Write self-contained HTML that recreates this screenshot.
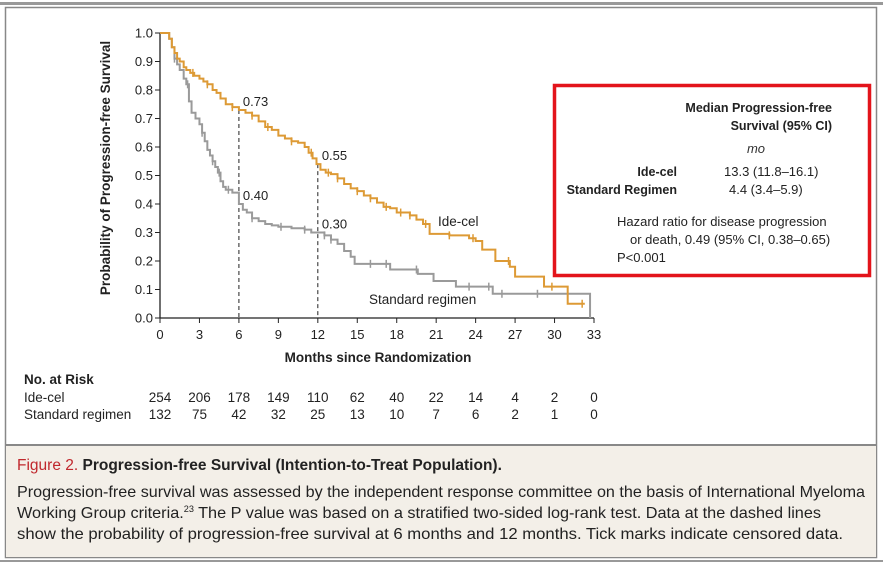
<!DOCTYPE html>
<html><head><meta charset="utf-8"><style>
body{margin:0;background:#fff;width:883px;height:565px;overflow:hidden;font-family:"Liberation Sans",sans-serif;}
svg text{font-family:"Liberation Sans",sans-serif;}
</style></head><body>
<svg id="c" width="883" height="565" xmlns="http://www.w3.org/2000/svg">
<rect x="0" y="2" width="883" height="3" fill="#999"/>
<rect x="5.5" y="7.5" width="871" height="550" fill="#fff" stroke="#888" stroke-width="1.5"/>
<rect x="6" y="445" width="870" height="112" fill="#f3efe8"/>
<line x1="6" y1="445" x2="876" y2="445" stroke="#888" stroke-width="2"/>
<rect x="0" y="560" width="883" height="2" fill="#999"/>
<g id="plot"></g>
<g>
<rect x="554.5" y="85.5" width="315" height="190" fill="#fff" stroke="#e3141b" stroke-width="3.5"/>
<text x="832" y="112" font-size="12.5" font-weight="bold" text-anchor="end" fill="#222">Median Progression-free</text>
<text x="832" y="130" font-size="12.5" font-weight="bold" text-anchor="end" fill="#222">Survival (95% CI)</text>
<text x="756" y="153" font-size="13" font-style="italic" fill="#333" text-anchor="middle">mo</text>
<text x="677" y="176" font-size="12.5" font-weight="bold" text-anchor="end" fill="#222">Ide-cel</text>
<text x="677" y="194" font-size="12.5" font-weight="bold" text-anchor="end" fill="#222">Standard Regimen</text>
<text x="724" y="176" font-size="13" fill="#222">13.3 (11.8–16.1)</text>
<text x="729" y="194" font-size="13" fill="#222">4.4 (3.4–5.9)</text>
<text x="617" y="226" font-size="13" fill="#222">Hazard ratio for disease progression</text>
<text x="630" y="244" font-size="13" fill="#222">or death, 0.49 (95% CI, 0.38–0.65)</text>
<text x="617" y="262" font-size="13" fill="#222">P&lt;0.001</text>
</g>
<g fill="#222">
<text x="17" y="470" font-size="15.5" font-weight="bold"><tspan fill="#c0282d" font-weight="normal">Figure 2.</tspan> Progression-free Survival (Intention-to-Treat Population).</text>
<text x="17" y="497" font-size="16" textLength="848" lengthAdjust="spacingAndGlyphs">Progression-free survival was assessed by the independent response committee on the basis of International Myeloma</text>
<text x="17" y="518" font-size="16" textLength="804" lengthAdjust="spacingAndGlyphs">Working Group criteria.<tspan font-size="9" dy="-6">23</tspan><tspan dy="6"> The P value was based on a stratified two-sided log-rank test. Data at the dashed lines</tspan></text>
<text x="17" y="539" font-size="16" textLength="826" lengthAdjust="spacingAndGlyphs">show the probability of progression-free survival at 6 months and 12 months. Tick marks indicate censored data.</text>
</g>
</svg>
<script>
const xTicks=[0,3,6,9,12,15,18,21,24,27,30,33];
const yTicks=[0.0,0.1,0.2,0.3,0.4,0.5,0.6,0.7,0.8,0.9,1.0];
const ideT=[0,0.7,0.9,1.1,1.3,1.5,1.8,2,2.3,2.6,3,3.3,3.6,4,4.3,4.6,5,5.5,6,6.5,7,7.5,8,8.5,9,9.5,10,10.5,11,11.3,11.6,11.9,12.2,12.6,13,13.5,14,14.5,15,15.5,16,16.5,17,17.5,18,19,19.5,20,20.5,22,23.5,24,24.5,25.5,26.6,27,29.2,31,32.3];
const ideS=[1,0.98,0.95,0.93,0.91,0.9,0.88,0.87,0.86,0.85,0.84,0.83,0.82,0.8,0.79,0.77,0.75,0.74,0.73,0.72,0.71,0.69,0.67,0.66,0.64,0.63,0.62,0.615,0.6,0.58,0.56,0.54,0.52,0.51,0.505,0.49,0.47,0.455,0.445,0.43,0.42,0.405,0.39,0.385,0.37,0.36,0.345,0.33,0.295,0.29,0.28,0.27,0.24,0.2,0.18,0.145,0.11,0.05,0.05];
const stdT=[0,0.5,0.7,0.9,1.1,1.3,1.5,1.8,2,2.2,2.4,2.7,3,3.2,3.4,3.6,3.8,4,4.2,4.4,4.6,4.8,5,5.5,6,6.3,6.6,7,7.5,8,8.5,9,10,11,11.5,12.5,13,13.5,14,14.5,14.8,17.5,19.6,20.8,22.5,25.3,32.7,32.7];
const stdS=[1,1,0.98,0.95,0.91,0.89,0.87,0.84,0.82,0.76,0.72,0.7,0.68,0.65,0.62,0.59,0.57,0.55,0.53,0.51,0.48,0.46,0.45,0.44,0.4,0.38,0.37,0.35,0.34,0.33,0.325,0.32,0.315,0.31,0.3,0.29,0.275,0.26,0.235,0.215,0.19,0.17,0.155,0.13,0.11,0.085,0.085,0];
const ideCens=[2.5,3.6,5.5,7,8.2,10,11.5,12.8,13.5,15,16,17.2,18.3,19,20.2,22,23.8,26.5,29.8,32.1];
const stdCens=[1.1,2.1,3.2,4,4.5,5.2,7,9.2,11,12.5,13,16,17.2,19.5,23.5,25,26,28.7];
const markers=[{t:6,ide:"0.73",std:"0.40"},{t:12,ide:"0.55",std:"0.30"}];
const riskIde=[254,206,178,149,110,62,40,22,14,4,2,0];
const riskStd=[132,75,42,32,25,13,10,7,6,2,1,0];
const NS="http://www.w3.org/2000/svg";
const X=v=>160+v*(434/33), Y=v=>318-v*285;
const g=document.getElementById('plot');
function mk(tag,a,txt){const e=document.createElementNS(NS,tag);for(const k in a)e.setAttribute(k,a[k]);if(txt!=null)e.textContent=txt;g.appendChild(e);return e;}
function surv(T,S,t){let s=S[0];for(let i=0;i<T.length;i++){if(T[i]<=t)s=S[i];}return s;}
function stepPath(T,S){let d=`M${X(T[0])},${Y(S[0])}`;for(let i=1;i<T.length;i++){d+=`H${X(T[i])}V${Y(S[i])}`;}return d;}
let e;
e=mk('line',{x1:160,y1:318,x2:594,y2:318,stroke:'#222','stroke-width':1.3});


e=mk('line',{x1:160,y1:33,x2:160,y2:318,stroke:'#222','stroke-width':1.3});


xTicks.forEach(v=>{mk('line',{x1:X(v),y1:318,x2:X(v),y2:323,stroke:'#222'});
e=mk('text',{x:X(v),y:339,'font-size':13,'text-anchor':'middle',fill:'#222'},v);

});
yTicks.forEach(v=>{mk('line',{x1:155,y1:Y(v),x2:160,y2:Y(v),stroke:'#222'});
e=mk('text',{x:153,y:Y(v)+4.5,'font-size':13,'text-anchor':'end',fill:'#222'},v.toFixed(1));

});
e=mk('text',{x:378,y:362,'font-size':13.5,'font-weight':'bold','text-anchor':'middle',fill:'#222'},'Months since Randomization');


e=mk('text',{transform:'translate(110,168) rotate(-90)','font-size':13.5,'font-weight':'bold','text-anchor':'middle',fill:'#222'},'Probability of Progression-free Survival');


markers.forEach(m=>{const top=surv(ideT,ideS,m.t);
e=mk('line',{x1:X(m.t),y1:Y(top),x2:X(m.t),y2:318,stroke:'#222','stroke-dasharray':'4,3'});


e=mk('text',{x:X(m.t)+4,y:Y(top)-4,'font-size':13,fill:'#222'},m.ide);


e=mk('text',{x:X(m.t)+4,y:Y(surv(stdT,stdS,m.t))-4,'font-size':13,fill:'#222'},m.std);

});
e=mk('path',{d:stepPath(stdT,stdS),fill:'none',stroke:'#9a9a9a','stroke-width':2});


e=mk('path',{d:stepPath(ideT,ideS),fill:'none',stroke:'#dd9a35','stroke-width':2});


stdCens.forEach(t=>{const y=Y(surv(stdT,stdS,t));e=mk('line',{x1:X(t),y1:y-4,x2:X(t),y2:y+4,stroke:'#9a9a9a','stroke-width':1.5});

});
ideCens.forEach(t=>{const y=Y(surv(ideT,ideS,t));e=mk('line',{x1:X(t),y1:y-4,x2:X(t),y2:y+4,stroke:'#dd9a35','stroke-width':1.5});

});
e=mk('text',{x:438,y:226,'font-size':13.5,fill:'#222'},'Ide-cel');


e=mk('text',{x:369,y:304,'font-size':13.5,fill:'#222'},'Standard regimen');


e=mk('text',{x:24,y:384,'font-size':13.5,'font-weight':'bold',fill:'#222'},'No. at Risk');


e=mk('text',{x:24,y:402,'font-size':13.5,fill:'#222'},'Ide-cel');


e=mk('text',{x:24,y:419,'font-size':13.5,fill:'#222'},'Standard regimen');


xTicks.forEach((v,i)=>{
e=mk('text',{x:X(v),y:402,'font-size':13.5,'text-anchor':'middle',fill:'#222'},riskIde[i]);


e=mk('text',{x:X(v),y:419,'font-size':13.5,'text-anchor':'middle',fill:'#222'},riskStd[i]);

});
</script>
</body></html>
